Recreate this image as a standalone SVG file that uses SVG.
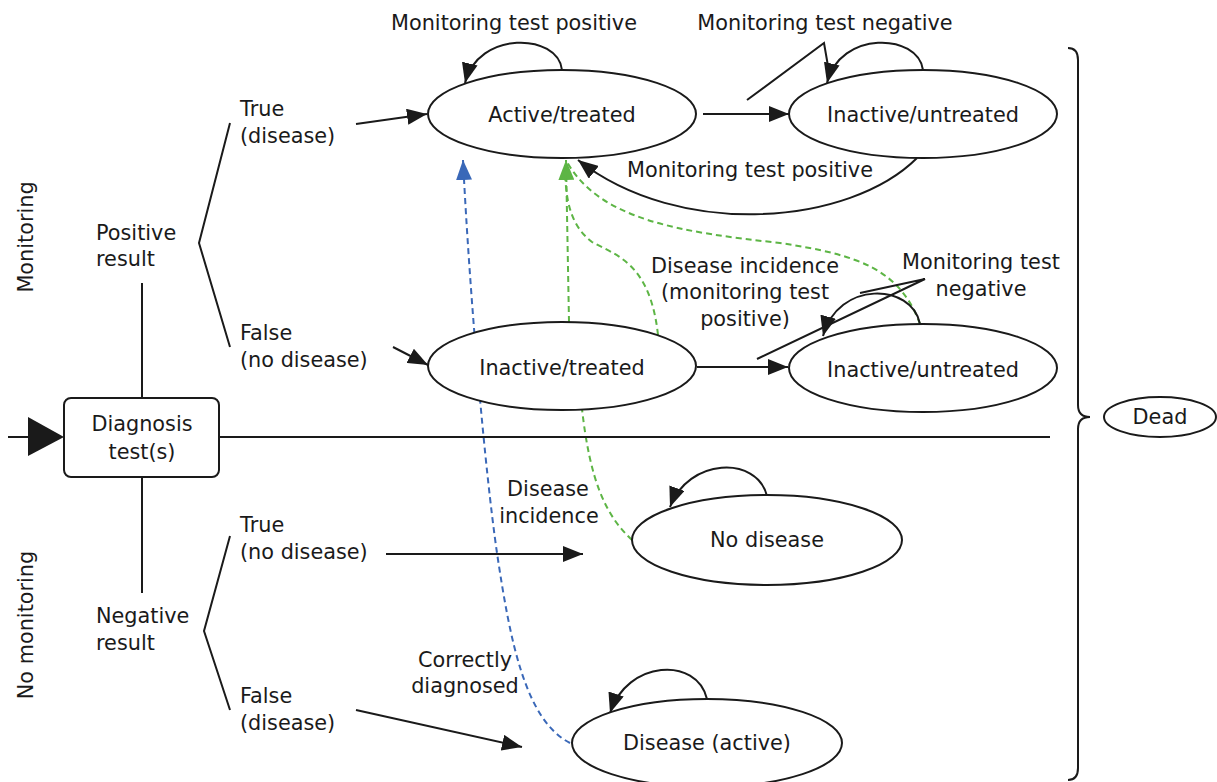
<svg xmlns="http://www.w3.org/2000/svg" width="1217" height="782" viewBox="0 0 1217 782">
<defs>
<style>
text{font-family:"DejaVu Sans","Open Sans",sans-serif;font-size:20.8px;fill:#1a1a1a}
.c{text-anchor:middle}
.ln{fill:none;stroke:#1a1a1a;stroke-width:2}
.node{fill:#fff;stroke:#1a1a1a;stroke-width:2}
.g{fill:none;stroke:#5db545;stroke-width:2;stroke-dasharray:6 4}
.b{fill:none;stroke:#3a68b8;stroke-width:2;stroke-dasharray:6 4}
</style>
<marker id="ah" markerUnits="userSpaceOnUse" markerWidth="22" markerHeight="16" refX="20" refY="8" orient="auto"><path d="M0,0 L20,8 L0,16 z" fill="#1a1a1a"/></marker>
<marker id="ahg" markerUnits="userSpaceOnUse" markerWidth="22" markerHeight="16" refX="20" refY="8" orient="auto"><path d="M0,0 L20,8 L0,16 z" fill="#5db545"/></marker>
<marker id="ahb" markerUnits="userSpaceOnUse" markerWidth="22" markerHeight="16" refX="20" refY="8" orient="auto"><path d="M0,0 L20,8 L0,16 z" fill="#3a68b8"/></marker>
</defs>
<rect width="1217" height="782" fill="#fff"/>

<g id="connectors">
<path class="b" d="M570,743 C 525,720 510,640 497,553 C 485,470 470,300 463,160" marker-end="url(#ahb)"/>
<path class="g" d="M632,540 C 605,515 590,480 582,409"/>
<path class="g" d="M569,322 L566,160" marker-end="url(#ahg)"/>
<path class="g" d="M658,335 C 650,262 615,255 592,242 C 570,225 565,200 565,162"/>
<path class="g" d="M920,324 C 900,270 860,255 780,243 C 680,232 600,220 567,162"/>
<line class="ln" x1="8" y1="437" x2="30" y2="437"/>
<path d="M28,417 L64,437 L28,456 z" fill="#1a1a1a"/>
<line class="ln" x1="219" y1="437" x2="1050" y2="437"/>
<line class="ln" x1="142" y1="283" x2="142" y2="398"/>
<line class="ln" x1="142" y1="477" x2="142" y2="593"/>
<polyline class="ln" points="230,123 199,243 230,347"/>
<polyline class="ln" points="230,536 204,631 230,710"/>
<line class="ln" x1="356" y1="124" x2="427" y2="114" marker-end="url(#ah)"/>
<line class="ln" x1="393" y1="347" x2="428" y2="365" marker-end="url(#ah)"/>
<line class="ln" x1="386" y1="554" x2="583" y2="554" marker-end="url(#ah)"/>
<line class="ln" x1="356" y1="710" x2="522" y2="747" marker-end="url(#ah)"/>
<line class="ln" x1="703" y1="114" x2="789" y2="114" marker-end="url(#ah)"/>
<line class="ln" x1="697" y1="367" x2="788" y2="367" marker-end="url(#ah)"/>
<path class="ln" d="M917,158 C 850,225 680,240 578,160" marker-end="url(#ah)"/>
<path class="ln" d="M562,70 C 558,33 478,30 465,83" marker-end="url(#ah)"/>
<path class="ln" d="M923,70 C 918,33 840,30 827,83" marker-end="url(#ah)"/>
<path class="ln" d="M920,324 C 912,283 838,280 823,336" marker-end="url(#ah)"/>
<path class="ln" d="M767,496 C 757,455 688,458 670,507" marker-end="url(#ah)"/>
<path class="ln" d="M707,699 C 697,656 627,660 610,713" marker-end="url(#ah)"/>
<polyline class="ln" points="747,100 824,43 828,66" stroke-width="1.5"/>
<polyline class="ln" points="757,359 925,279 860,293" stroke-width="1.5"/>
<path class="ln" d="M1068,48 Q1078,48 1078,60 L1078,405 Q1078,417 1090,417 Q1078,417 1078,429 L1078,768 Q1078,780 1068,780"/>
</g>

<g id="diagnosis"><rect class="node" x="64" y="398" width="155" height="79" rx="7"/><text class="c" x="142" y="431">Diagnosis<tspan x="142" dy="28">test(s)</tspan></text></g>
<g id="active-treated"><ellipse class="node" cx="562" cy="114" rx="134" ry="44"/><text class="c" x="562" y="122">Active/treated</text></g>
<g id="inactive-untreated-1"><ellipse class="node" cx="923" cy="114" rx="134" ry="44"/><text class="c" x="923" y="122">Inactive/untreated</text></g>
<g id="inactive-treated"><ellipse class="node" cx="562" cy="366" rx="134" ry="44"/><text class="c" x="562" y="375">Inactive/treated</text></g>
<g id="inactive-untreated-2"><ellipse class="node" cx="923" cy="368" rx="134" ry="44"/><text class="c" x="923" y="377">Inactive/untreated</text></g>
<g id="no-disease"><ellipse class="node" cx="767" cy="540" rx="135" ry="45"/><text class="c" x="767" y="547">No disease</text></g>
<g id="disease-active"><ellipse class="node" cx="707" cy="743" rx="135" ry="44"/><text class="c" x="707" y="750">Disease (active)</text></g>
<g id="dead"><ellipse class="node" cx="1160" cy="417" rx="56" ry="20"/><text class="c" x="1160" y="424">Dead</text></g>

<g id="labels">
<text class="c" transform="translate(33,237) rotate(-90)">Monitoring</text>
<text class="c" transform="translate(33,625) rotate(-90)">No monitoring</text>
<text x="96" y="240">Positive<tspan x="96" dy="26">result</tspan></text>
<text x="96" y="623">Negative<tspan x="96" dy="27">result</tspan></text>
<text x="240" y="116">True<tspan x="240" dy="27">(disease)</tspan></text>
<text x="240" y="340">False<tspan x="240" dy="27">(no disease)</tspan></text>
<text x="240" y="532">True<tspan x="240" dy="27">(no disease)</tspan></text>
<text x="240" y="703">False<tspan x="240" dy="27">(disease)</tspan></text>
<text class="c" x="514" y="30">Monitoring test positive</text>
<text class="c" x="825" y="30">Monitoring test negative</text>
<text class="c" x="750" y="177">Monitoring test positive</text>
<text class="c" x="745" y="273">Disease incidence<tspan x="745" dy="26">(monitoring test</tspan><tspan x="745" dy="27">positive)</tspan></text>
<text class="c" x="981" y="269">Monitoring test<tspan x="981" dy="27">negative</tspan></text>
<text class="c" x="548" y="496">Disease<tspan x="549" dy="27">incidence</tspan></text>
<text class="c" x="465" y="667">Correctly<tspan x="465" dy="26">diagnosed</tspan></text>
</g>
</svg>
